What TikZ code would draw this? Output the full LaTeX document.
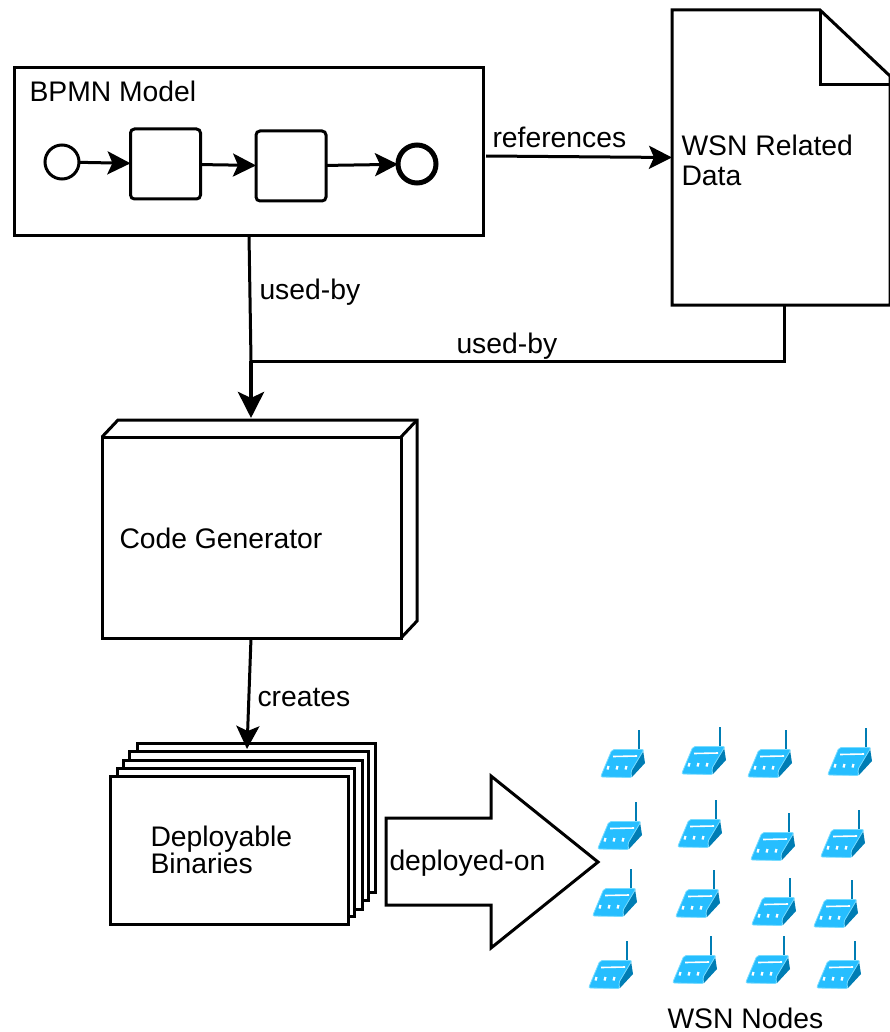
\documentclass[tikz,border=0pt]{standalone}
\usepackage{fontspec}
\setmainfont{Liberation Sans}
\usetikzlibrary{arrows.meta}
\definecolor{sensorface}{RGB}{38,190,255}
\definecolor{sensorside}{RGB}{0,125,180}
\definecolor{sensoredge}{RGB}{120,220,255}

\begin{document}
\begin{tikzpicture}
	[x=1pt, y=-1pt, line width=3pt, line join=miter, font=\fontsize{28.3}{28}\selectfont,
	box node/.style={rectangle, draw, fill=white, inner sep=0pt, outer sep=0pt},
	task node/.style={box node, rounded corners=4pt, minimum width=70pt, minimum height=70pt},
	label node/.style={inner sep=0pt, anchor=base west},
	text node/.style={inner sep=0pt, anchor=west, align=left},
	flow/.style={-{Stealth[length=23pt, width=23pt, inset=5pt]}},
	bigflow/.style={line width=4.5pt, -{Stealth[length=26pt, width=26pt, inset=6pt]}},
	sensor/.pic={
		\draw[sensorside, line width=2pt] (37.5,-26) -- (37.5,-47);
		\fill[sensorside] (42,-27) -- (44,-14) -- (31,0) -- (27,-2) -- cycle;
		\draw[sensoredge, fill=sensorface, line width=0.8pt, rounded corners=2pt] (-0.5,0) -- (11,-27.5) -- (43,-27.5) -- (29.5,-5) -- (31,0.5) -- cycle;
		\draw[white, line width=1.6pt] (12,-20.5) -- (36,-21);
		\foreach \d in {7,16,25}{
			\draw[white, line width=2.2pt] (\d+0.5,-11) -- (\d-0.5,-7.5);
		}
	}]
	\useasboundingbox (0,0) rectangle (889,1032);

	%bpmn model
	\node[box node, minimum width=469pt, minimum height=167pt] (bpmn) at (248.5,151.5) {};
	\node[label node] (bpmnlabel) at (28,102) {BPMN Model};
	\node[box node, circle, minimum width=34pt] (start) at (62,162) {};
	\node[task node] (task1) at (165.5,164) {};
	\node[task node] (task2) at (291,166) {};
	\node[box node, circle, line width=5pt, minimum width=38pt] (end) at (417,164) {};
	\draw[flow] (start) -- (task1);
	\draw[flow] (task1) -- (task2);
	\draw[flow] (task2) -- (end);

	%related data
	\node[minimum width=218pt, minimum height=295pt, inner sep=0pt, outer sep=0pt] (data) at (781,157.5) {};
	\draw (data.south west) -- (data.north west) -- (820,10) -- (890,76) -- (data.south east) -- cycle;
	\draw (820,10) -- (820,85) -- (890,85);
	\node[text node] (datalabel) at (680,160) {WSN Related\\[2pt]Data};
	\coordinate (refstart) at (486,156);
	\draw[flow] (refstart) -- (data.west);
	\node[label node] (reflabel) at (491,148) {references};

	%code generator
	\node[box node, minimum width=299pt, minimum height=201pt] (gen) at (251.5,537.5) {};
	\draw (gen.north west) -- (118,420) -- (417,420) -- (417,621) -- (gen.south east);
	\draw (gen.north east) -- (417,420);
	\node[text node] (genlabel) at (118,538) {Code Generator};

	\coordinate (genin) at (251,418);
	\coordinate (join) at (251,361);
	\coordinate (bpmnout) at (249,235);
	\coordinate (dataout) at (784,305);
	\draw (bpmnout) -- (join);
	\draw (dataout) -- (784,361) -- (join);
	\draw[bigflow] (join) -- (genin);
	\node[label node] (usedlabel1) at (258,299) {used-by};
	\node[label node] (usedlabel2) at (455,353) {used-by};

	%binaries
	\foreach \l/\t/\r/\b in {137/743/375/892, 129/751/368/900, 123/760/362/909, 117/768/354/916}{
		\draw[fill=white] (\l,\t) rectangle (\r,\b);
	}
	\node[box node, minimum width=238pt, minimum height=148pt] (bin) at (229,850) {};
	\node[text node] (binlabel) at (149,850) {Deployable\\[-1pt]Binaries};
	\coordinate (genout) at (251,638);
	\coordinate (binin) at (247,749);
	\draw[flow] (genout) -- (binin);
	\node[label node] (createlabel) at (256,706) {creates};

	%deployed-on arrow
	\draw (386,818) -- (491,818) -- (491,776) -- (598,862) -- (491,948) -- (491,905) -- (386,905) -- cycle;
	\node[label node] (deploylabel) at (388,870) {deployed-on};

	%sensors
	\foreach \n/\x/\y in {a/601/777, b/682/774, c/748/777, d/828/775,
		e/598/849, f/678/847, g/751/860, h/821/857,
		i/593/916, j/676/917, k/752/925, l/814/927,
		m/589/988, n/673/983, o/746/983, p/817/988}{
		\pic (\n) at (\x,\y) {sensor};
	}
	\node[label node] (wsnlabel) at (666,1028) {WSN Nodes};
\end{tikzpicture}
\end{document}
